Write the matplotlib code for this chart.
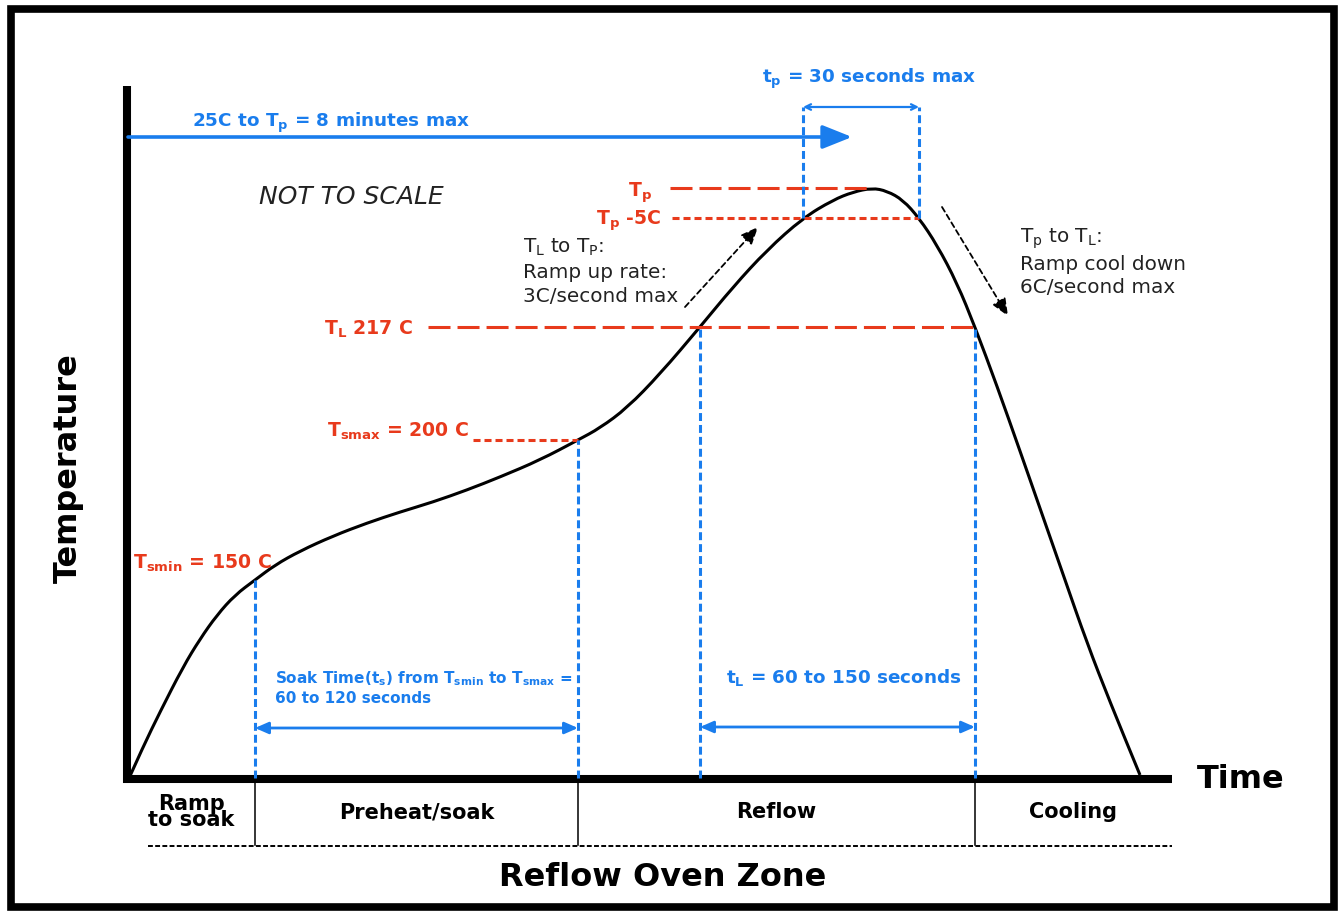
"""
Reflow soldering temperature profile (schematic, not to scale).
Draws the oven profile curve with its limits, time windows and zones.
"""
import matplotlib
matplotlib.use('Agg')
import matplotlib.pyplot as plt
from matplotlib.patches import Rectangle, PathPatch
from matplotlib.path import Path

# Schematic units: x = time from start, y = temperature level above ambient
profile_time = [2, 15, 32, 55, 72, 89, 107, 127, 147, 172, 205, 239, 272, 305,
                339, 372, 412, 450, 472, 499, 532, 572, 605, 639, 675, 705,
                725, 744, 759, 775, 791, 809, 829, 847, 869, 892, 914, 936,
                959, 982, 1012]
profile_temp = [2, 31, 66, 111, 139, 163, 183, 198, 213, 227, 242, 255, 266,
                276, 288, 301, 318, 338, 350, 370, 404, 451, 491, 528, 560,
                578, 586, 590, 587, 578, 560, 533, 495, 451, 392, 327, 264,
                201, 135, 76, 3]

# Key temperature levels
TS_MIN = 198
TS_MAX = 338
T_LIQ = 451
TP_MINUS5 = 560
T_PEAK = 590

# Key times
SOAK_START = 127
SOAK_END = 450
LIQ_START = 572
LIQ_END = 847
PEAK_START = 675
PEAK_END = 791
PEAK_TIME = 744
RAMP_ARROW_END = 724

# Axis extents
TIME_AXIS_END = 1044
TEMP_AXIS_END = 692

zone_names = ['Ramp\nto soak', 'Preheat/soak', 'Reflow', 'Cooling']
zone_edges = [0, SOAK_START, SOAK_END, LIQ_END, TIME_AXIS_END]

BLUE = '#1a7ded'
RED = '#e83a1c'
NOTE = '#222222'


def smooth_path(xs, ys):
    """Quadratic Bezier path through the midpoints of the profile points."""
    pts = list(zip(xs, ys))
    verts = [pts[0]]
    codes = [Path.MOVETO]
    for i in range(1, len(pts) - 1):
        mid = ((pts[i][0] + pts[i + 1][0]) / 2, (pts[i][1] + pts[i + 1][1]) / 2)
        verts += [pts[i], mid]
        codes += [Path.CURVE3, Path.CURVE3]
    verts.append(pts[-1])
    codes.append(Path.LINETO)
    return Path(verts, codes)


def blue_vline(ax, x, y0, y1):
    ax.plot([x, x], [y0, y1], color=BLUE, lw=2.2, dashes=(2.6, 1.3),
            solid_capstyle='butt', dash_capstyle='butt')


def span_arrow(ax, x0, x1, y, style, lw=2.0):
    ax.annotate('', xy=(x1, y), xytext=(x0, y),
                arrowprops=dict(arrowstyle=style, color=BLUE, lw=lw,
                                shrinkA=0, shrinkB=0))


def main():
    fig = plt.figure(figsize=(13.39, 9.11), dpi=100)
    ax = fig.add_axes([0, 0, 1, 1])
    ax.set_xlim(-128, 1211)
    ax.set_ylim(-133, 778)
    ax.axis('off')

    # outer frame
    ax.add_patch(Rectangle((-117, -129), 1323, 898, fill=False, lw=5.5,
                           edgecolor='black', clip_on=False))

    # axes lines
    ax.plot([-1, -1], [-5, TEMP_AXIS_END], color='black', lw=5.8,
            solid_capstyle='butt')
    ax.plot([-5, TIME_AXIS_END], [-1, -1], color='black', lw=5.8,
            solid_capstyle='butt')
    ax.text(1113, -2, 'Time', fontsize=23, fontweight='bold',
            ha='center', va='center')
    ax.text(-60, 310, 'Temperature', fontsize=23, fontweight='bold',
            rotation=90, ha='center', va='center')

    # red temperature limits
    ax.plot([542, PEAK_TIME], [T_PEAK, T_PEAK], color=RED, lw=2.2,
            dashes=(7.2, 2.3))
    ax.plot([544, PEAK_END], [TP_MINUS5, TP_MINUS5], color=RED, lw=2.2,
            dashes=(2.3, 1.3))
    ax.plot([300, LIQ_END], [T_LIQ, T_LIQ], color=RED, lw=2.2,
            dashes=(7.2, 2.3))
    ax.plot([345, SOAK_END], [TS_MAX, TS_MAX], color=RED, lw=2.2,
            dashes=(2.3, 1.3))

    ax.text(524, 581, r'T$_{\mathbf{p}}$', color=RED, fontsize=13.6,
            fontweight='bold', ha='right', va='baseline')
    ax.text(533, 553, r'T$_{\mathbf{p}}$ -5C', color=RED, fontsize=13.6,
            fontweight='bold', ha='right', va='baseline')
    ax.text(285, 443, r'T$_{\mathbf{L}}$ 217 C', color=RED, fontsize=13.6,
            fontweight='bold', ha='right', va='baseline')
    ax.text(199, 341, r'T$_{\mathbf{smax}}$ = 200 C', color=RED, fontsize=13.6,
            fontweight='bold', ha='left', va='baseline')
    ax.text(5, 209, r'T$_{\mathbf{smin}}$ = 150 C', color=RED, fontsize=13.6,
            fontweight='bold', ha='left', va='baseline')

    # blue time windows
    blue_vline(ax, SOAK_START, 0, TS_MIN)
    blue_vline(ax, SOAK_END, 0, TS_MAX)
    blue_vline(ax, LIQ_START, 0, T_LIQ)
    blue_vline(ax, LIQ_END, 0, T_LIQ)
    blue_vline(ax, PEAK_START, TP_MINUS5, 671)
    blue_vline(ax, PEAK_END, TP_MINUS5, 671)

    span_arrow(ax, SOAK_START, SOAK_END, 50,
               '<|-|>,head_length=0.8,head_width=0.35')
    span_arrow(ax, LIQ_START, LIQ_END, 51,
               '<|-|>,head_length=0.8,head_width=0.35')
    span_arrow(ax, PEAK_START, PEAK_END, 671,
               '<->,head_length=0.4,head_width=0.2', lw=1.6)
    ax.annotate('', xy=(RAMP_ARROW_END, 641), xytext=(0, 641),
                arrowprops=dict(arrowstyle='-|>,head_length=1.0,head_width=0.4',
                                color=BLUE, lw=2.6, shrinkA=0, shrinkB=0,
                                mutation_scale=18))

    ax.text(64, 651, r'25C to T$_{\mathbf{p}}$ = 8 minutes max', color=BLUE,
            fontsize=13.2, fontweight='bold', ha='left', va='baseline')
    ax.text(741, 695, r't$_{\mathbf{p}}$ = 30 seconds max', color=BLUE,
            fontsize=13.2, fontweight='bold', ha='center', va='baseline')
    ax.text(598, 95, r't$_{\mathbf{L}}$ = 60 to 150 seconds', color=BLUE,
            fontsize=13.2, fontweight='bold', ha='left', va='baseline')
    ax.text(147, 95,
            r'Soak Time(t$_{\mathbf{s}}$) from T$_{\mathbf{smin}}$ to T$_{\mathbf{smax}}$ =',
            color=BLUE, fontsize=11, fontweight='bold', ha='left', va='baseline')
    ax.text(147, 75, '60 to 120 seconds', color=BLUE, fontsize=11,
            fontweight='bold', ha='left', va='baseline')

    # profile curve
    ax.add_patch(PathPatch(smooth_path(profile_time, profile_temp),
                           facecolor='none', edgecolor='black', lw=2.2))

    # ramp rate notes
    ax.text(131, 581, 'NOT TO SCALE', fontsize=18, style='italic',
            ha='left', va='center', color=NOTE)
    ax.text(395, 541, 'T$_{\\mathrm{L}}$ to T$_{\\mathrm{P}}$:\nRamp up rate:\n3C/second max',
            fontsize=14.4, ha='left', va='top', linespacing=1.32, color=NOTE)
    ax.text(892, 552, 'T$_{\\mathrm{p}}$ to T$_{\\mathrm{L}}$:\nRamp cool down\n6C/second max',
            fontsize=14.4, ha='left', va='top', linespacing=1.28, color=NOTE)
    for (x0, y0), (x1, y1) in [((557, 471), (630, 551)), ((814, 571), (880, 462))]:
        ax.annotate('', xy=(x1, y1), xytext=(x0, y0),
                    arrowprops=dict(arrowstyle='-|>,head_length=0.75,head_width=0.32',
                                    color='black', lw=1.3, linestyle=(0, (3, 2)),
                                    shrinkA=0, shrinkB=0, mutation_scale=14))

    # oven zones
    for edge in zone_edges[1:-1]:
        ax.plot([edge, edge], [-4, -67], color='black', lw=1.1)
    ax.plot([20, TIME_AXIS_END], [-68, -68], color='black', lw=1.4,
            dashes=(2.5, 1.2))
    for name, left, right in zip(zone_names, zone_edges[:-1], zone_edges[1:]):
        ax.text((left + right) / 2, -34, name, fontsize=15, fontweight='bold',
                ha='center', va='center', linespacing=0.8)
    ax.text(535, -100, 'Reflow Oven Zone', fontsize=23, fontweight='bold',
            ha='center', va='center')

    fig.savefig('out.png', dpi=100)
    plt.close(fig)


if __name__ == "__main__":
    main()
